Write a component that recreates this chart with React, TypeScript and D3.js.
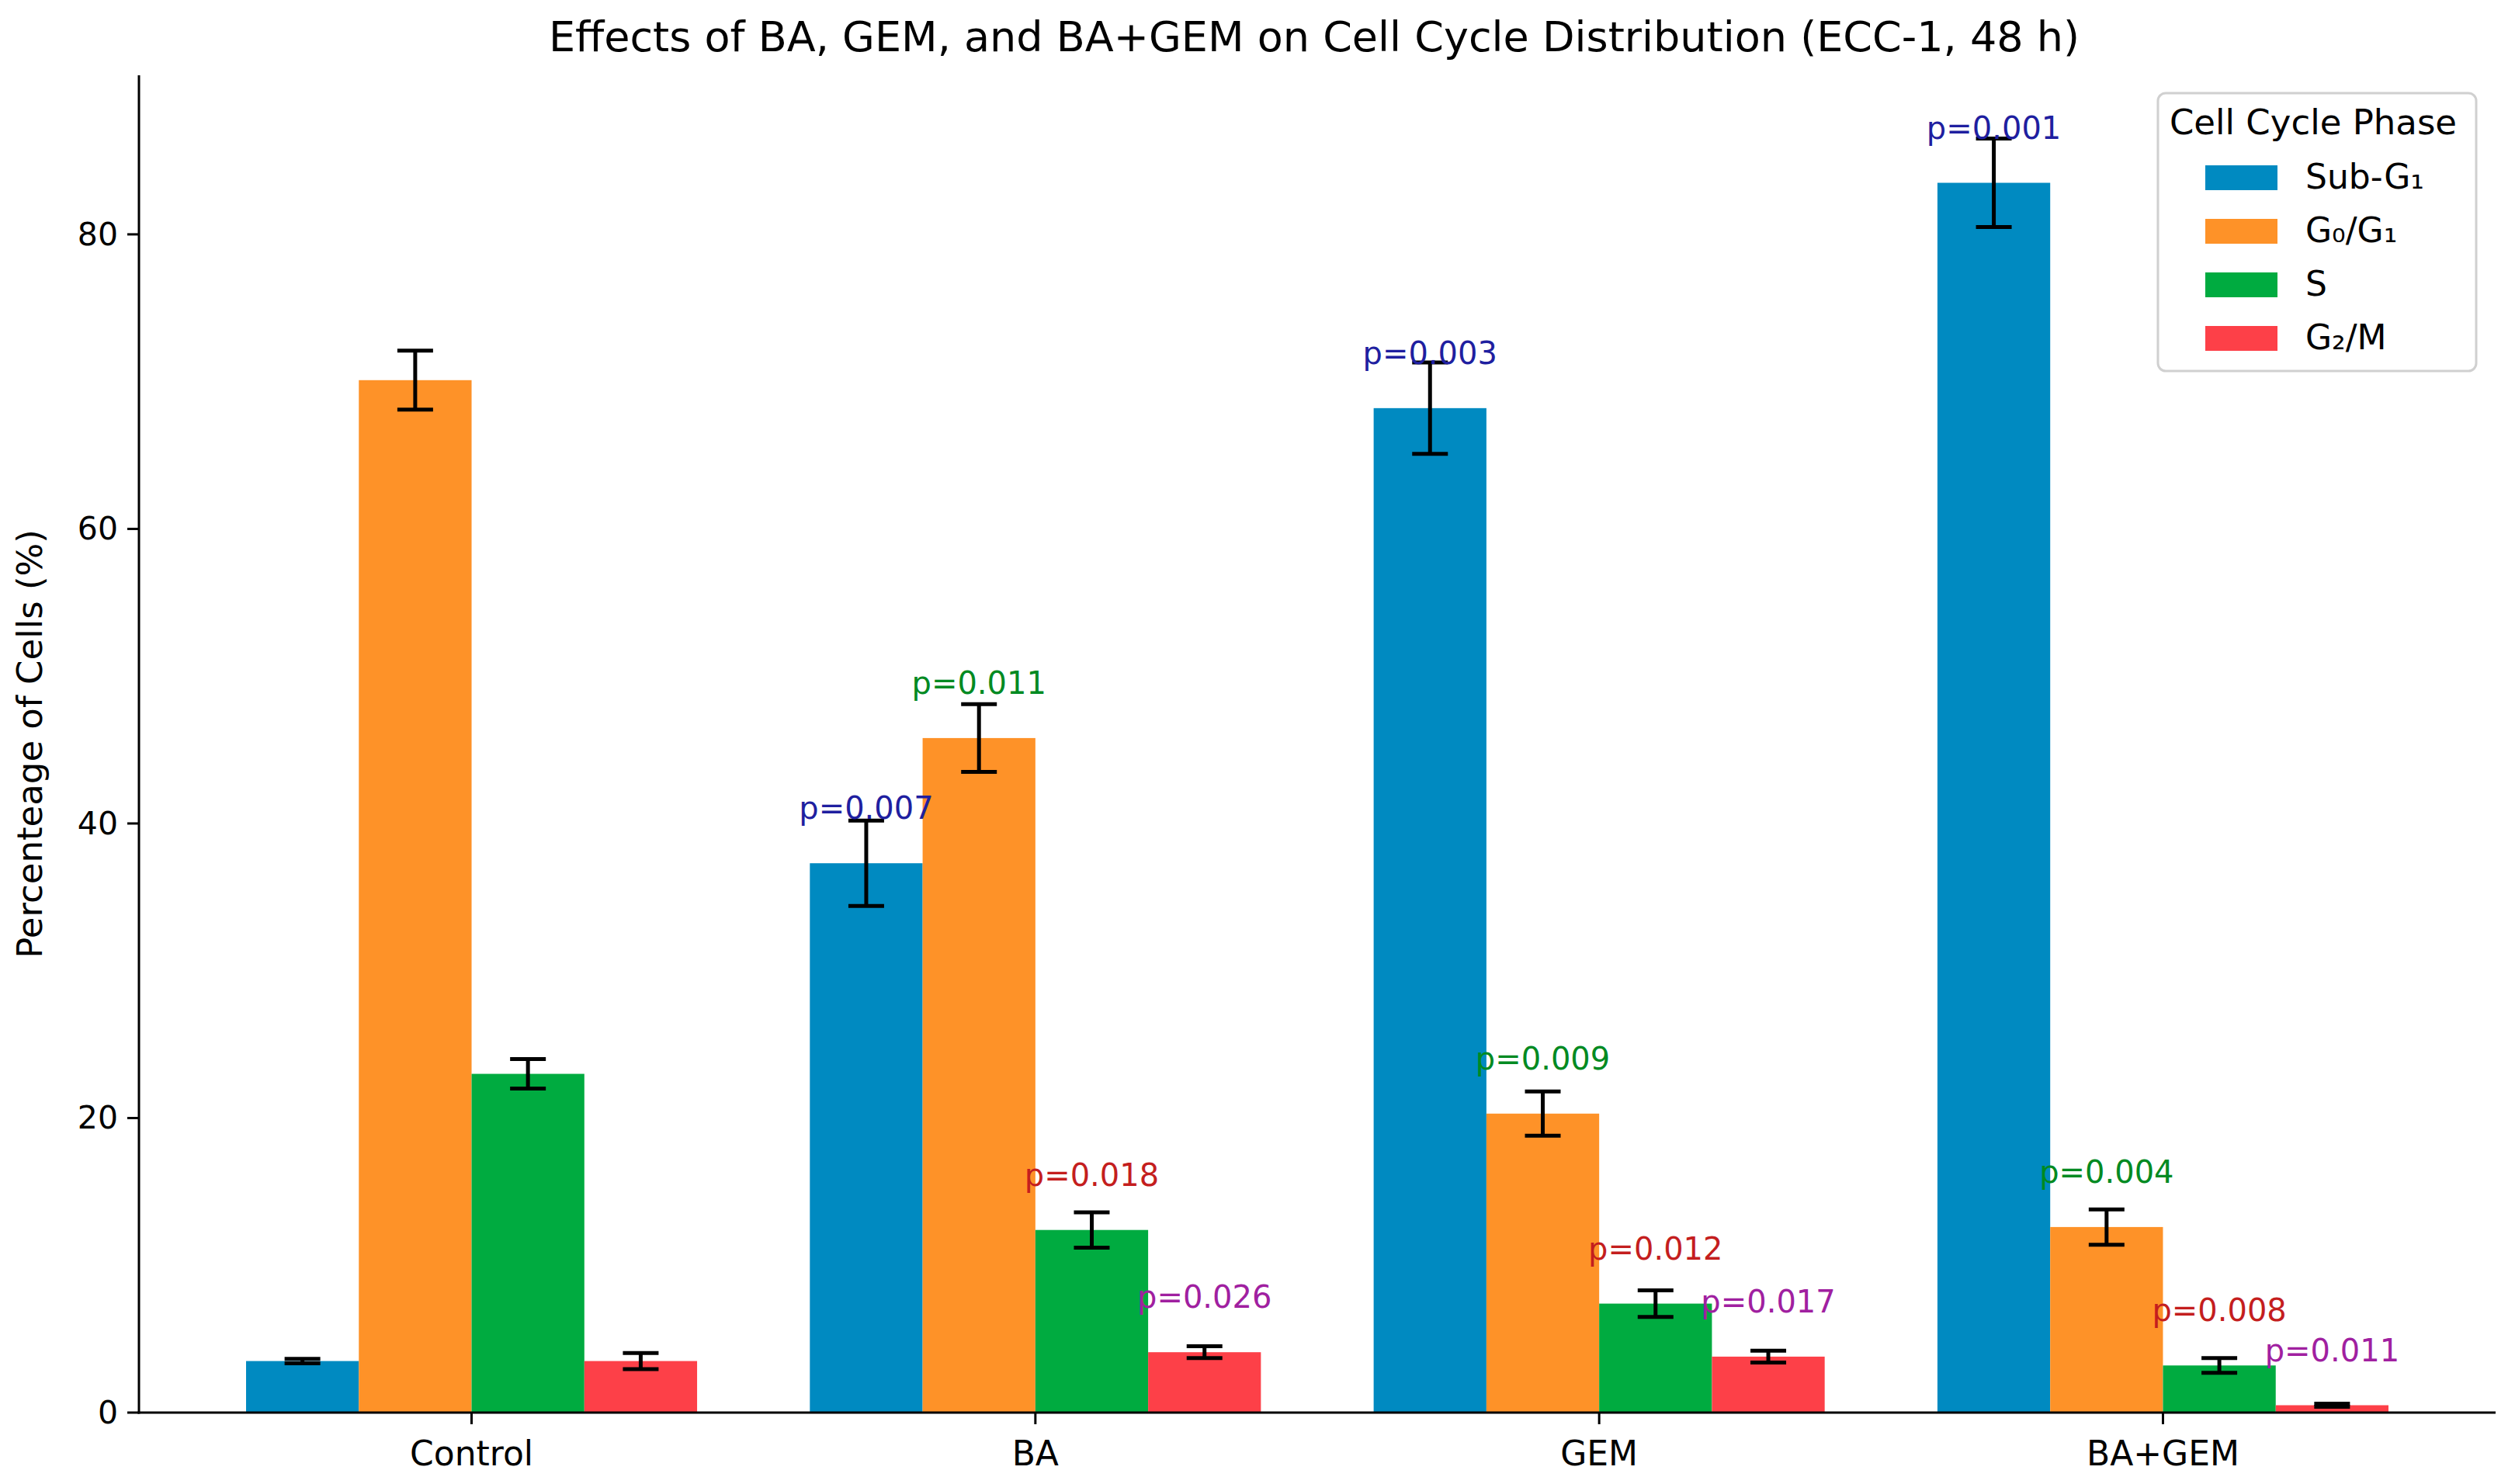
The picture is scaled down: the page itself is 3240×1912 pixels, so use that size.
import React from 'react';
import * as d3 from 'd3';

// values
const groups = ['Control', 'BA', 'GEM', 'BA+GEM'];
const phases = ['Sub-G₁', 'G₀/G₁', 'S', 'G₂/M'];
const phaseColors = ['#008AC1', '#FE9228', '#00AB40', '#FD4048'];
const pColors = ['#1F1FA0', '#008A22', '#C41E1E', '#A020A0'];

const subG1 = [3.5, 37.3, 68.2, 83.5];
const subG1Err = [0.15, 2.9, 3.1, 3.0];
const g0g1 = [70.1, 45.8, 20.3, 12.6];
const g0g1Err = [2.0, 2.3, 1.5, 1.2];
const sPhase = [23.0, 12.4, 7.4, 3.2];
const sPhaseErr = [1.0, 1.2, 0.9, 0.5];
const g2m = [3.5, 4.1, 3.8, 0.5];
const g2mErr = [0.55, 0.4, 0.4, 0.1];

const subG1P = ['', '0.007', '0.003', '0.001'];
const g0g1P = ['', '0.011', '0.009', '0.004'];
const sPhaseP = ['', '0.018', '0.012', '0.008'];
const g2mP = ['', '0.026', '0.017', '0.011'];

const yTicks = [0, 20, 40, 60, 80];

const W = 3240;
const H = 1912;
const FONT = 'DejaVu Sans, Verdana, sans-serif';

export default function App() {
  const values = [subG1, g0g1, sPhase, g2m];
  const errs = [subG1Err, g0g1Err, sPhaseErr, g2mErr];
  const pvals = [subG1P, g0g1P, sPhaseP, g2mP];

  const barW = 0.2;
  const x = d3.scaleLinear().domain([-0.59, 3.59]).range([179, 3215]);
  const y = d3.scaleLinear().domain([0, 90.8]).range([1820, 97]);
  const bw = x(barW) - x(0);

  return (
    <svg width={W} height={H} style={{ position: 'absolute', left: 0, top: 0, background: '#fff' }}
      fontFamily={FONT}>
      <rect width={W} height={H} fill="#fff" />
      <text x={(179 + 3215) / 2 - 4} y={66} textAnchor="middle" fontSize={54} fill="#000">
        Effects of BA, GEM, and BA+GEM on Cell Cycle Distribution (ECC-1, 48 h)
      </text>

      {/* bars */}
      {values.map((series, j) => (
        <g key={'s' + j}>
          {series.map((v, i) => {
            const cx = i + (j - 1.5) * barW;
            return (
              <rect key={i} x={x(cx - barW / 2)} y={y(v)} width={bw} height={y(0) - y(v)}
                fill={phaseColors[j]} />
            );
          })}
        </g>
      ))}

      {/* error bars */}
      {values.map((series, j) => (
        <g key={'e' + j} stroke="#000" strokeWidth={5}>
          {series.map((v, i) => {
            const cx = x(i + (j - 1.5) * barW);
            const e = errs[j][i];
            return (
              <g key={i}>
                <line x1={cx} x2={cx} y1={y(v - e)} y2={y(v + e)} />
                <line x1={cx - 23} x2={cx + 23} y1={y(v - e)} y2={y(v - e)} />
                <line x1={cx - 23} x2={cx + 23} y1={y(v + e)} y2={y(v + e)} />
              </g>
            );
          })}
        </g>
      ))}

      {/* p-value labels */}
      {values.map((series, j) => (
        <g key={'p' + j}>
          {series.map((v, i) => pvals[j][i] ? (
            <text key={i} x={x(i + (j - 1.5) * barW)} y={y(v + 3.0)} textAnchor="middle"
              fontSize={40} fill={pColors[j]}>
              {'p=' + pvals[j][i]}
            </text>
          ) : null)}
        </g>
      ))}

      {/* axes */}
      <line x1={179} x2={179} y1={97} y2={1821.5} stroke="#000" strokeWidth={3} />
      <line x1={177.5} x2={3215} y1={1820} y2={1820} stroke="#000" strokeWidth={3} />
      {yTicks.map(t => (
        <g key={t}>
          <line x1={164} x2={179} y1={y(t)} y2={y(t)} stroke="#000" strokeWidth={3} />
          <text x={152} y={y(t) + 14} textAnchor="end" fontSize={41} fill="#000">{t}</text>
        </g>
      ))}
      {groups.map((g, i) => (
        <g key={g}>
          <line x1={x(i)} x2={x(i)} y1={1820} y2={1835} stroke="#000" strokeWidth={3} />
          <text x={x(i)} y={1888} textAnchor="middle" fontSize={44} fill="#000">{g}</text>
        </g>
      ))}
      <text transform={`translate(54,${(97 + 1820) / 2}) rotate(-90)`} textAnchor="middle"
        fontSize={45} fill="#000">Percenteage of Cells (%)</text>

      {/* legend */}
      <g>
        <rect x={2780} y={120} width={410} height={358} rx={10} fill="#fff" fillOpacity={0.8}
          stroke="#d0d0d0" strokeWidth={3} />
        <text x={2980} y={173} textAnchor="middle" fontSize={45} fill="#000">Cell Cycle Phase</text>
        {phases.map((p, j) => (
          <g key={p}>
            <rect x={2841} y={213 + j * 69} width={93} height={32} fill={phaseColors[j]} />
            <text x={2970} y={243 + j * 69} fontSize={44} fill="#000">{p}</text>
          </g>
        ))}
      </g>
    </svg>
  );
}
